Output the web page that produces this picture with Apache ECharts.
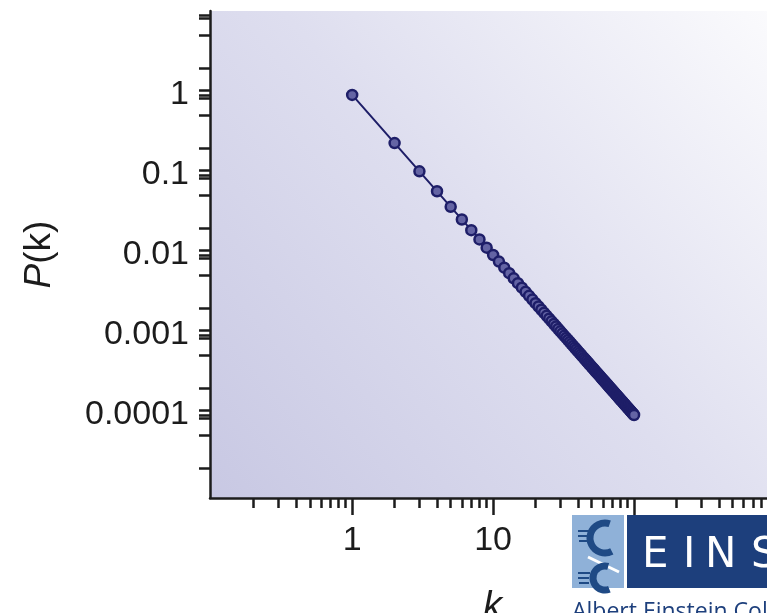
<!DOCTYPE html>
<html>
<head>
<meta charset="utf-8">
<title>P(k) 幂律分布</title>
<script src="https://cdn.jsdelivr.net/npm/echarts@6/dist/echarts.min.js"></script>
<style>
  html, body { margin: 0; padding: 0; background: #fff; }
  #chart { width: 767px; height: 613px; }
</style>
</head>
<body>
<div id="chart"></div>
<script>
/* =================== 度分布 P(k) 双对数图 =================== */

// 数据：度 k 与对应的概率 P(k)
const kValues = [
  1, 2, 3, 4, 5, 6, 7, 8, 9, 10,
  11, 12, 13, 14, 15, 16, 17, 18, 19, 20,
  21, 22, 23, 24, 25, 26, 27, 28, 29, 30,
  31, 32, 33, 34, 35, 36, 37, 38, 39, 40,
  41, 42, 43, 44, 45, 46, 47, 48, 49, 50,
  51, 52, 53, 54, 55, 56, 57, 58, 59, 60,
  61, 62, 63, 64, 65, 66, 67, 68, 69, 70,
  71, 72, 73, 74, 75, 76, 77, 78, 79, 80,
  81, 82, 83, 84, 85, 86, 87, 88, 89, 90,
  91, 92, 93, 94, 95, 96, 97, 98, 99, 100
];
const pValues = [
  1, 0.25, 0.1111, 0.0625, 0.04, 0.02778, 0.02041, 0.01563, 0.01235, 0.01,
  0.008264, 0.006944, 0.005917, 0.005102, 0.004444, 0.003906, 0.00346, 0.003086, 0.00277, 0.0025,
  0.002268, 0.002066, 0.00189, 0.001736, 0.0016, 0.001479, 0.001372, 0.001276, 0.001189, 0.001111,
  0.001041, 0.0009766, 0.0009183, 0.000865, 0.0008163, 0.0007716, 0.0007305, 0.0006925, 0.0006575, 0.000625,
  0.0005949, 0.0005669, 0.0005408, 0.0005165, 0.0004938, 0.0004726, 0.0004527, 0.000434, 0.0004165, 0.0004,
  0.0003845, 0.0003698, 0.000356, 0.0003429, 0.0003306, 0.0003189, 0.0003078, 0.0002973, 0.0002873, 0.0002778,
  0.0002687, 0.0002601, 0.000252, 0.0002441, 0.0002367, 0.0002296, 0.0002228, 0.0002163, 0.00021, 0.0002041,
  0.0001984, 0.0001929, 0.0001877, 0.0001826, 0.0001778, 0.0001731, 0.0001687, 0.0001644, 0.0001602, 0.0001563,
  0.0001524, 0.0001487, 0.0001452, 0.0001417, 0.0001384, 0.0001352, 0.0001321, 0.0001291, 0.0001262, 0.0001235,
  0.0001208, 0.0001181, 0.0001156, 0.0001132, 0.0001108, 0.0001085, 0.0001063, 0.0001041, 0.000102, 0.0001
];

// 坐标轴刻度
const xLabelValues = [1, 10];
const xLabelTexts = ['1', '10'];
const xMajorTicks = [1, 10, 100, 1000];
const xMinorTicks = [
  0.2, 0.3, 0.4, 0.5, 0.6, 0.7, 0.8, 0.9,
  2, 3, 4, 5, 6, 7, 8, 9,
  20, 30, 40, 50, 60, 70, 80, 90,
  200, 300, 400, 500, 600, 700, 800
];
const yLabelValues = [1, 0.1, 0.01, 0.001, 0.0001];
const yLabelTexts = ['1', '0.1', '0.01', '0.001', '0.0001'];
const yTicks = [
  10, 9.17, 5.62,
  2.17, 1.155, 1, 0.917, 0.562,
  0.217, 0.1155, 0.1, 0.0917, 0.0562,
  0.0217, 0.01155, 0.01, 0.00917, 0.00562,
  0.00217, 0.001155, 0.001, 0.000917, 0.000562,
  0.000217, 0.0001155, 0.0001, 0.0000917, 0.0000562,
  0.0000217
];

const FONT = 'Liberation Sans, Arial, sans-serif';
const INK = '#1c1c1c';
const NAVY = '#1e1e68';
const LOGO_BLUE = '#1f4a85';

const chart = echarts.init(document.getElementById('chart'));

function labelFor(values, texts) {
  return function (v) {
    for (let i = 0; i < values.length; i++) {
      if (Math.abs(Math.log10(v) - Math.log10(values[i])) < 1e-6) return texts[i];
    }
    return '';
  };
}

// 校徽上的字母（字距较宽，逐个摆放）
function logoLetter(ch, x) {
  return { type: 'text', x: x, y: 535, style: { text: ch, fill: '#fff', font: '42px "DejaVu Sans", sans-serif' } };
}

const option = {
  animation: false,
  backgroundColor: '#ffffff',
  grid: {
    left: 210,
    top: 11,
    width: 565,
    height: 487,
    outerBoundsMode: 'none', // 不要为了容纳标签而压缩网格
    show: true,
    borderWidth: 0,
    // 左下角淡紫，右上角渐白
    backgroundColor: new echarts.graphic.LinearGradient(0, 1, 1, 0, [
      { offset: 0, color: '#c8c8e3' },
      { offset: 0.5, color: '#dedeef' },
      { offset: 1, color: '#fbfbfd' }
    ])
  },
  xAxis: [
    {
      type: 'log',
      logBase: 10,
      min: 0.098,
      max: 1000,
      position: 'bottom',
      name: 'k',
      nameLocation: 'middle',
      nameGap: 90,
      nameTextStyle: { fontFamily: FONT, fontSize: 38, fontStyle: 'italic', color: INK },
      axisLine: { show: true, onZero: false, lineStyle: { color: INK, width: 2.5 } },
      axisTick: { show: true, length: 17, customValues: xMajorTicks, lineStyle: { color: INK, width: 2.5 } },
      axisLabel: {
        show: true,
        customValues: xLabelValues,
        margin: 26,
        fontFamily: FONT,
        fontSize: 34,
        color: INK,
        formatter: labelFor(xLabelValues, xLabelTexts)
      },
      splitLine: { show: false },
      minorTick: { show: false }
    },
    {
      type: 'log',
      logBase: 10,
      min: 0.098,
      max: 1000,
      position: 'bottom',
      axisLine: { show: false },
      axisTick: { show: true, length: 10, customValues: xMinorTicks, lineStyle: { color: INK, width: 2.5 } },
      axisLabel: { show: false },
      splitLine: { show: false }
    }
  ],
  yAxis: [
    {
      type: 'log',
      logBase: 10,
      min: 9.17e-6,
      max: 11.2,
      position: 'left',
      name: '{i|P}(k)',
      nameLocation: 'middle',
      nameGap: 152,
      nameTextStyle: {
        fontFamily: FONT,
        fontSize: 37,
        color: INK,
        rich: {
          i: { fontFamily: FONT, fontSize: 37, fontStyle: 'italic', color: INK }
        }
      },
      axisLine: { show: true, onZero: false, lineStyle: { color: INK, width: 2.5 } },
      axisTick: { show: true, length: 11, customValues: yTicks, lineStyle: { color: INK, width: 2.5 } },
      axisLabel: {
        show: true,
        customValues: yLabelValues,
        margin: 21,
        fontFamily: FONT,
        fontSize: 34,
        color: INK,
        formatter: labelFor(yLabelValues, yLabelTexts)
      },
      splitLine: { show: false }
    }
  ],
  series: [
    {
      name: 'P(k)',
      type: 'line',
      xAxisIndex: 0,
      yAxisIndex: 0,
      data: kValues.map((k, i) => [k, pValues[i]]),
      symbol: 'circle',
      symbolSize: 10,
      showAllSymbol: true,
      lineStyle: { color: NAVY, width: 2 },
      itemStyle: { color: '#6464a4', borderColor: NAVY, borderWidth: 2.5 },
      z: 5
    }
  ],
  // 右下角的校徽水印
  graphic: [
    {
      type: 'group',
      z: 100,
      children: [
        { type: 'rect', shape: { x: 572, y: 515, width: 52, height: 73 }, style: { fill: '#8fb1d8' } },
        {
          type: 'arc',
          shape: { cx: 605, cy: 538, r: 15, startAngle: -1.25, endAngle: 1.1, clockwise: false },
          style: { stroke: LOGO_BLUE, lineWidth: 7, fill: null }
        },
        {
          type: 'line',
          shape: { x1: 588, y1: 557, x2: 619, y2: 572 },
          style: { stroke: '#ffffff', lineWidth: 3 }
        },
        {
          type: 'arc',
          shape: { cx: 605, cy: 578, r: 12, startAngle: -1.3, endAngle: 1.2, clockwise: false },
          style: { stroke: LOGO_BLUE, lineWidth: 7, fill: null }
        },
        { type: 'rect', shape: { x: 578, y: 530, width: 12, height: 2 }, style: { fill: LOGO_BLUE } },
        { type: 'rect', shape: { x: 578, y: 535, width: 11, height: 2 }, style: { fill: LOGO_BLUE } },
        { type: 'rect', shape: { x: 579, y: 540, width: 10, height: 2 }, style: { fill: LOGO_BLUE } },
        { type: 'rect', shape: { x: 578, y: 572, width: 12, height: 2 }, style: { fill: LOGO_BLUE } },
        { type: 'rect', shape: { x: 578, y: 577, width: 11, height: 2 }, style: { fill: LOGO_BLUE } },
        { type: 'rect', shape: { x: 579, y: 582, width: 10, height: 2 }, style: { fill: LOGO_BLUE } },
        { type: 'rect', shape: { x: 627, y: 515, width: 150, height: 73 }, style: { fill: '#1d3f7c' } },
        logoLetter('E', 642),
        logoLetter('I', 683),
        logoLetter('N', 705),
        logoLetter('S', 751),
        { type: 'text', x: 572, y: 601, style: { text: 'Albert Einstein College', fill: '#1d3f7c', font: '23px "Open Sans", sans-serif' } }
      ]
    }
  ]
};

chart.setOption(option);
</script>
</body>
</html>
